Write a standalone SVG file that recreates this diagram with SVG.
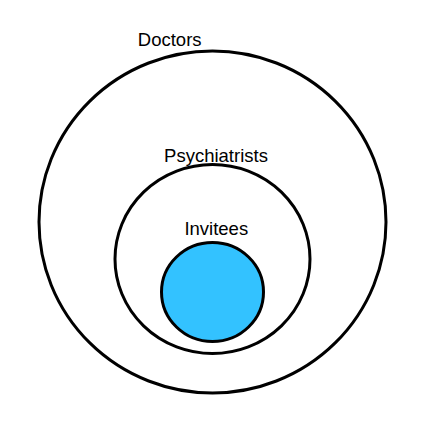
<svg xmlns="http://www.w3.org/2000/svg" width="436" height="428" viewBox="0 0 436 428">
<style>
.set{fill:none;stroke:#000;stroke-width:3}
.lbl{font-family:"Liberation Sans",Arial,sans-serif;font-size:18.5px;fill:#000;text-anchor:middle}
</style>
<rect width="436" height="428" fill="#fff"/>
<g id="doctors">
<ellipse class="set" cx="212.5" cy="222" rx="173.5" ry="171"/>
<text class="lbl" x="169.7" y="46">Doctors</text>
</g>
<g id="psychiatrists">
<ellipse class="set" cx="212.5" cy="259" rx="97.5" ry="94.5"/>
<text class="lbl" x="216" y="162">Psychiatrists</text>
</g>
<g id="invitees">
<ellipse class="set" cx="212.5" cy="292" rx="51" ry="49.5" style="fill:#33C2FF"/>
<text class="lbl" x="216.3" y="235">Invitees</text>
</g>
<g id="connectors"></g>
</svg>
